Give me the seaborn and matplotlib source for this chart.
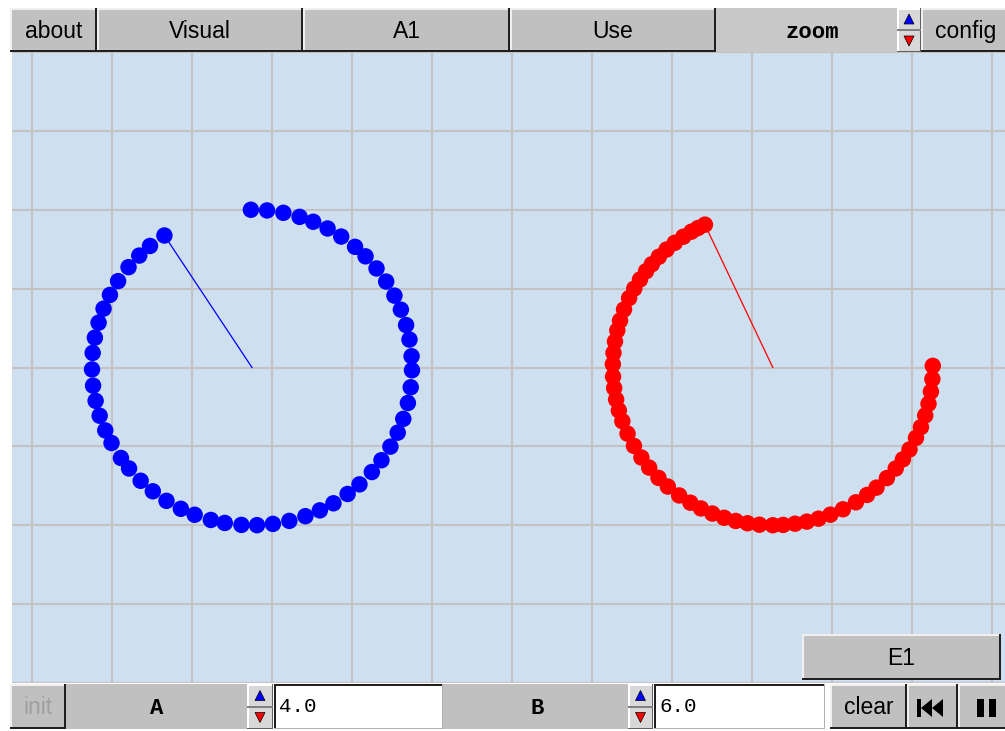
import numpy as np
import pandas as pd
import matplotlib
matplotlib.use("Agg")
import matplotlib.pyplot as plt
from matplotlib.patches import Rectangle, Polygon
from matplotlib.transforms import Affine2D
import seaborn as sns

# ---------------- data ----------------
blue_center = (-3.25, 0.0)
red_center = (3.26, 0.0)
radius = 2.0
blue_angles = [90.4, 84.6, 78.7, 72.7, 67.5, 61.8, 56.1, 49.9, 44.8, 38.9, 33.0, 27.1,
               21.5, 15.6, 10.2, 4.1, -1.0, -7.2, -13.0, -19.0, -24.4, -30.1, -36.0,
               -41.5, -47.8, -53.3, -59.4, -64.9, -70.5, -76.5, -82.5, -88.2, -93.8,
               -99.8, -104.9, -111.0, -116.4, -122.3, -128.3, -134.1, -140.2, -145.0,
               -151.4, -156.5, -162.2, -167.8, -173.4, -179.3, 174.7, 169.1, 163.5,
               158.1, 152.6, 146.8, 140.5, 134.8, 129.6, 123.2]
red_angles = [0.6, -4.2, -8.8, -13.3, -17.7, -22.2, -26.5, -31.3, -35.6, -39.8, -44.5,
              -49.6, -53.9, -58.7, -64.0, -68.9, -73.4, -77.7, -82.0, -86.3, -90.0,
              -94.8, -99.1, -103.4, -107.7, -112.2, -116.7, -121.0, -125.8, -131.0,
              -135.6, -140.6, -145.2, -150.2, -155.2, -160.1, -164.2, -168.3, -172.5,
              -176.7, 178.8, 174.7, 170.5, 166.4, 162.7, 158.4, 153.9, 150.0, 146.1,
              142.4, 139.1, 135.4, 131.6, 127.8, 124.0, 120.6, 117.9, 115.1]
top_buttons = ["about", "Visual", "A1", "Use"]
param_names = ["A", "B"]
param_values = ["4.0", "6.0"]

# ---------------- figure ----------------
W, H = 1005, 731
fig = plt.figure(figsize=(W / 100, H / 100), dpi=100)
fig.patch.set_facecolor("white")

ax_l, ax_r, ax_t, ax_b = 12, 1005, 52, 683
ax = fig.add_axes([ax_l / W, 1 - ax_b / H, (ax_r - ax_l) / W, (ax_b - ax_t) / H])
ppu = 80.0
ox, oy = 512, 370
ax.set_xlim((ax_l - ox) / ppu, (ax_r - ox) / ppu)
ax.set_ylim((oy - ax_b) / ppu, (oy - ax_t) / ppu)
ax.set_facecolor("#cedff0")
ax.set_xticks(range(-6, 7))
ax.set_yticks(range(-4, 5))
ax.tick_params(length=0, labelbottom=False, labelleft=False)
ax.grid(True, color="#c3c3c3", linewidth=1.5)
ax.set_axisbelow(True)
for s in ax.spines.values():
    s.set_visible(False)


def ring(center, angles, name):
    a = np.deg2rad(np.array(angles))
    return pd.DataFrame({"x": center[0] + radius * np.cos(a),
                         "y": center[1] + radius * np.sin(a),
                         "series": name})


df = pd.concat([ring(blue_center, blue_angles, "blue"), ring(red_center, red_angles, "red")])
sns.scatterplot(data=df, x="x", y="y", hue="series",
                palette={"blue": "#0000ff", "red": "#ff0000"},
                s=140, marker="o", linewidth=0, legend=False, ax=ax, zorder=3)
for center, name, col in [(blue_center, "blue", "#0000ff"), (red_center, "red", "#ff0000")]:
    last = df[df["series"] == name].iloc[-1]
    ax.plot([center[0], last["x"]], [center[1], last["y"]], color=col, linewidth=0.9, zorder=2)
ax.set_xlabel("")
ax.set_ylabel("")

# ---------------- UI chrome (pixel coordinates, top-left origin) ----------------
pix = Affine2D().scale(1 / W, -1 / H).translate(0, 1) + fig.transFigure
GRAY = "#c0c0c0"


def rect(x0, y0, x1, y1, color, z=2):
    fig.patches.append(Rectangle((x0, y0), x1 - x0, y1 - y0, transform=pix,
                                 facecolor=color, edgecolor="none", zorder=z))


def poly(pts, color, z=4, ec="none"):
    fig.patches.append(Polygon(pts, closed=True, transform=pix, facecolor=color,
                               edgecolor=ec, linewidth=0.5, zorder=z))


def text(x, y, s, size=17, family="Liberation Sans", color="black", ha="center", **kw):
    fig.text(x / W, 1 - y / H, s, ha=ha, va="center", fontsize=size,
             family=family, color=color, zorder=5, **kw)


def button(x0, y0, x1, y1, label=None, color="black", size=16.5):
    rect(x0, y0, x1, y1, GRAY)
    rect(x0, y0, x1, y0 + 1.5, "#f0f0f0", 3)
    rect(x0, y0, x0 + 1.5, y1, "#f0f0f0", 3)
    rect(x0, y1 - 2, x1, y1, "#202020", 3)
    rect(x1 - 2, y0, x1, y1, "#202020", 3)
    if label:
        text((x0 + x1) / 2, (y0 + y1) / 2 + 1.5, label, size=size, color=color)


def spinner(x0, y0, x1, y1):
    rect(x0, y0, x1, y1, "#d8d8d8")
    rect(x0, y0, x1, y0 + 1.5, "white", 3)
    rect(x0, y0, x0 + 1.5, y1, "white", 3)
    rect(x1 - 1.5, y0, x1, y1, "#606060", 3)
    rect(x0, y1 - 1.5, x1, y1, "#606060", 3)
    ym = (y0 + y1) / 2
    rect(x0, ym - 1, x1, ym + 1, "#808080", 3)
    cx = (x0 + x1) / 2
    poly([(cx - 5, ym - 6), (cx + 5, ym - 6), (cx, ym - 16)], "#0000ff", ec="black")
    poly([(cx - 5, ym + 6), (cx + 5, ym + 6), (cx, ym + 16)], "#ff0000", ec="black")


def field(x0, y0, x1, y1, s):
    rect(x0, y0, x1, y1, "white")
    rect(x0, y0, x1, y0 + 2, "#202020", 3)
    rect(x0, y0, x0 + 2, y1, "#202020", 3)
    rect(x0, y1 - 1.5, x1, y1, "#b0b0b0", 3)
    rect(x1 - 1.5, y0, x1, y1, "#b0b0b0", 3)
    text(x0 + 5, (y0 + y1) / 2, s, size=15, family="Liberation Mono", ha="left")


# top bar
tb_y0, tb_y1 = 8, 52
xs = [10, 97, 303, 510, 716]
for (a, b), lab in zip(zip(xs[:-1], xs[1:]), top_buttons):
    button(a, tb_y0, b, tb_y1, lab)
rect(716, tb_y0, 897, tb_y1, "#c8c8c8")
text(812, 32, "zoom", size=16, family="Liberation Mono", fontweight="bold")
spinner(897, tb_y0, 921, tb_y1)
button(921, tb_y0, 1010, tb_y1, "config")

# E1 button inside plot
button(802, 634, 1001, 680, "E1")

# bottom bar
bb_y0, bb_y1 = 684, 729
button(10, bb_y0, 66, bb_y1, "init", color="#a0a0a0")
rect(66, bb_y0, 247, bb_y1, GRAY)
text(157, 709, param_names[0], size=16, family="Liberation Mono", fontweight="bold")
spinner(247, bb_y0, 273, bb_y1)
field(274, bb_y0, 443, bb_y1, param_values[0])
rect(443, bb_y0, 628, bb_y1, GRAY)
text(537, 709, param_names[1], size=16, family="Liberation Mono", fontweight="bold")
spinner(628, bb_y0, 653, bb_y1)
field(654, bb_y0, 825, bb_y1, param_values[1])
button(830, bb_y0, 907, bb_y1, "clear")
button(907, bb_y0, 958, bb_y1)
# rewind icon
rect(917, 699, 921, 717, "black", 4)
poly([(921, 708), (932, 699), (932, 717)], "black")
poly([(932, 708), (943, 699), (943, 717)], "black")
button(958, bb_y0, 1010, bb_y1)
# pause icon
rect(977, 699, 984, 717, "black", 4)
rect(989, 699, 996, 717, "black", 4)

fig.savefig("out.png", dpi=100)
